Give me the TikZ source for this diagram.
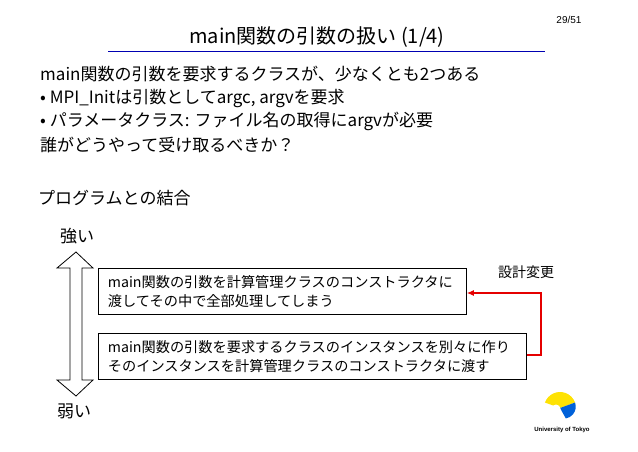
\documentclass[tikz,border=0pt]{standalone}
\usepackage{fontspec}
\usetikzlibrary{arrows.meta}
\setmainfont{Noto Sans CJK JP}
\newfontfamily\arialf{Liberation Sans}
\begin{document}
\begin{tikzpicture}[x=1pt,y=-1pt,
  txt/.style={anchor=west,inner sep=0pt,font=\fontsize{17}{20}\selectfont},
  boxt/.style={draw,thick,anchor=north west,inner sep=0pt,align=left,font=\fontsize{14.2}{19}\selectfont},
  redarr/.style={draw=red!90!black,line width=1.2pt,-{Latex[length=7pt,width=6pt]}}]
\useasboundingbox (0,0) rectangle (638,451);
\node[inner sep=0pt,font=\fontsize{20}{22}\selectfont] (title) at (317,37) {main関数の引数の扱い (1/4)};
\draw[blue!70!black,thick] (108,51) coordinate (u1) -- (545,51) coordinate (u2);
\node[inner sep=0pt,font=\arialf\fontsize{10}{11}\selectfont] (pg) at (569,20) {29/51};
\node[txt] (l1) at (40,74) {main関数の引数を要求するクラスが、少なくとも2つある};
\node[txt] (l2) at (40,98) {• MPI\_Initは引数としてargc, argvを要求};
\node[txt] (l3) at (40,121) {• パラメータクラス: ファイル名の取得にargvが必要};
\node[txt] (l4) at (40,145) {誰がどうやって受け取るべきか？};
\node[txt] (pr) at (38,198) {プログラムとの結合};
\node[txt] (st) at (60,236) {強い};
\node[txt] (wk) at (57,411) {弱い};
\draw[thick,fill=white] (76,252) -- (93,268) -- (82,268) -- (82,380) -- (93,380) -- (76,396) -- (57,380) -- (70,380) -- (70,268) -- (57,268) -- cycle;
\node[boxt,minimum width=368pt,minimum height=46pt,text width=365pt] (b1) at (98,268) {\hspace*{8pt}main関数の引数を計算管理クラスのコンストラクタに\\\hspace*{8pt}渡してその中で全部処理してしまう};
\node[boxt,minimum width=428pt,minimum height=46pt,text width=425pt] (b2) at (98,333) {\hspace*{8pt}main関数の引数を要求するクラスのインスタンスを別々に作り\\\hspace*{8pt}そのインスタンスを計算管理クラスのコンストラクタに渡す};
\coordinate (c1) at (541,355);
\coordinate (c2) at (541,293);
\draw[redarr] (b2.east |- 0,355) -- (c1) -- (c2) -- (b1.east |- 0,293);
\node[inner sep=0pt,font=\fontsize{14}{16}\selectfont] (sk) at (526,272) {設計変更};
% logo
\fill[yellow!85!orange] (560,408) -- ([shift={(-160:16)}]560,408) arc (-160:-20:16) -- cycle;
\fill[blue!55!cyan!85!black] (560,408) -- ([shift={(-20:16)}]560,408) arc (-20:80:12) -- cycle;
\fill[white] (556,409) circle (4.5);
\node[inner sep=0pt,font=\arialf\bfseries\fontsize{6}{7}\selectfont] (ut) at (562,430) {University of Tokyo};
\end{tikzpicture}
\end{document}
